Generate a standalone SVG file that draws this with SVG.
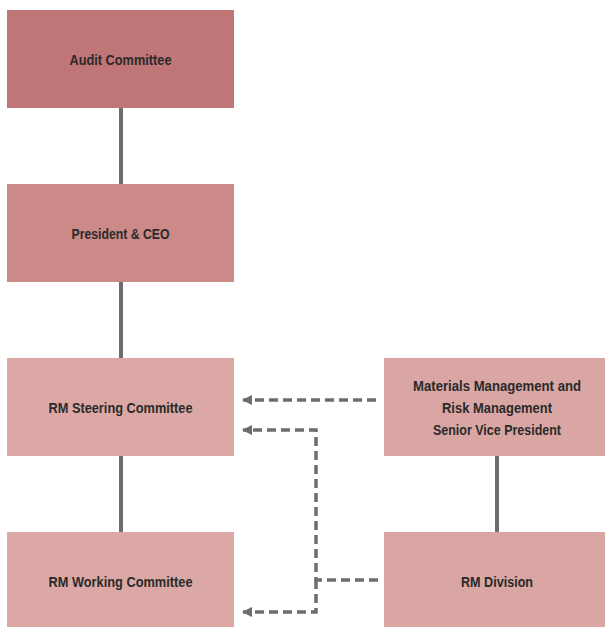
<svg xmlns="http://www.w3.org/2000/svg" width="605" height="627" viewBox="0 0 605 627">
<style>
.lbl{font-family:"Liberation Sans","DejaVu Sans",sans-serif;font-weight:bold;font-size:15px;fill:#2a2a2a;text-anchor:middle}
.sm{font-size:14px}
.solid{stroke:#6d6d70;stroke-width:4;fill:none}
.dash{stroke:#6d6d70;stroke-width:3.5;fill:none;stroke-dasharray:9 5}
</style>
<defs>
<marker id="ah" viewBox="0 0 10 10" refX="9" refY="5" markerWidth="3" markerHeight="3" orient="auto" markerUnits="strokeWidth">
<path d="M0,0 L10,5 L0,10 z" fill="#6d6d70"/>
</marker>
</defs>
<rect width="605" height="627" fill="#fff"/>
<g id="connectors">
<line class="solid" x1="121" y1="108" x2="121" y2="184"/>
<line class="solid" x1="121" y1="282" x2="121" y2="358"/>
<line class="solid" x1="121" y1="456" x2="121" y2="532"/>
<line class="solid" x1="497" y1="456" x2="497" y2="532"/>
<path class="dash" d="M376,400 H243" marker-end="url(#ah)"/>
<path class="dash" d="M378,580 H316 V430 H243" marker-end="url(#ah)"/>
<path class="dash" d="M316,580 V612 H243" marker-end="url(#ah)"/>
</g>
<g id="audit">
<rect x="7" y="10" width="227" height="98" fill="#c07576"/>
<text class="lbl" x="120.5" y="64.5" textLength="102" lengthAdjust="spacingAndGlyphs">Audit Committee</text>
</g>
<g id="ceo">
<rect x="7" y="184" width="227" height="98" fill="#cb8a88"/>
<text class="lbl" x="120.5" y="238.5" textLength="98" lengthAdjust="spacingAndGlyphs">President &amp; CEO</text>
</g>
<g id="steering">
<rect x="7" y="358" width="227" height="98" fill="#dba8a5"/>
<text class="lbl" x="120.5" y="412.5" textLength="144" lengthAdjust="spacingAndGlyphs">RM Steering Committee</text>
</g>
<g id="working">
<rect x="7" y="532" width="227" height="95" fill="#dba8a5"/>
<text class="lbl" x="120.5" y="586.5" textLength="144" lengthAdjust="spacingAndGlyphs">RM Working Committee</text>
</g>
<g id="svp">
<rect x="384" y="358" width="221" height="98" fill="#d9a6a3"/>
<text class="lbl sm" x="497" y="390.5" textLength="168" lengthAdjust="spacingAndGlyphs">Materials Management and</text>
<text class="lbl" x="497" y="412.5" textLength="110" lengthAdjust="spacingAndGlyphs">Risk Management</text>
<text class="lbl" x="497" y="434.5" textLength="128" lengthAdjust="spacingAndGlyphs">Senior Vice President</text>
</g>
<g id="division">
<rect x="384" y="532" width="221" height="95" fill="#d9a6a3"/>
<text class="lbl" x="497" y="586.5" textLength="72" lengthAdjust="spacingAndGlyphs">RM Division</text>
</g>
</svg>
